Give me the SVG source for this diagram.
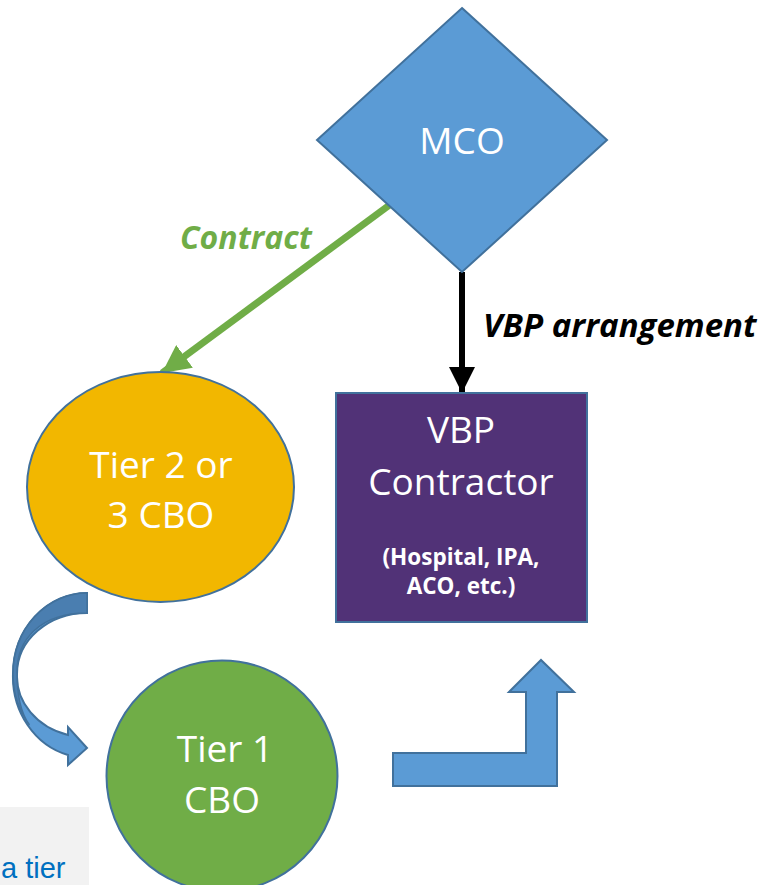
<svg xmlns="http://www.w3.org/2000/svg" width="762" height="885" viewBox="0 0 762 885">
<defs>
<style>
.lbl{font-family:"Open Sans","Liberation Sans",sans-serif;fill:#ffffff;text-anchor:middle}
.big{font-size:37px}
.mid{font-size:37px}
.sm{font-size:22.5px;font-weight:bold}
.edge{font-family:"Open Sans","Liberation Sans",sans-serif;font-weight:bold;font-style:italic}
.shape{stroke:#41719C;stroke-width:2}
</style>
<marker id="headBlack" markerUnits="userSpaceOnUse" markerWidth="26" markerHeight="26" viewBox="0 0 26 26" refX="26" refY="13" orient="auto">
<path d="M0,0 L26,13 L0,26 Z" fill="#000000"/>
</marker>
<marker id="headGreen" markerUnits="userSpaceOnUse" markerWidth="28" markerHeight="28" viewBox="0 0 28 28" refX="28" refY="14" orient="auto">
<path d="M0,0 L28,14 L0,28 Z" fill="#70AD47"/>
</marker>
</defs>
<rect width="762" height="885" fill="#ffffff"/>

<g id="note">
<rect x="0" y="807" width="89" height="78" fill="#F2F2F2"/>
<text x="1" y="878" font-family="Liberation Sans, Arial, sans-serif" font-size="29" fill="#0070C0">a tier</text>
</g>

<g id="connectors">
<line x1="399" y1="198" x2="162" y2="373" stroke="#70AD47" stroke-width="7" marker-end="url(#headGreen)"/>
<line x1="462" y1="272" x2="462" y2="393" stroke="#000000" stroke-width="6" marker-end="url(#headBlack)"/>
<text class="edge" x="180" y="249" font-size="32" fill="#70AD47">Contract</text>
<text class="edge" x="483" y="337" font-size="33" fill="#000000">VBP arrangement</text>
<g id="curved-arrow">
<path class="shape" d="M87,593 A74,81 0 0 0 13,674 A74,81 0 0 0 68,755 L68,765 L87,748 L68,727 L68,735 A70,61 0 0 1 17,674 A70,61 0 0 1 87,613 Z" fill="#5B9BD5"/>
<path d="M87,593 A74,81 0 0 0 13,674 A74,81 0 0 0 29.5,725 C22,715 17,700 17,672 C17,640 40,613 87,613 Z" fill="#4A7EB0" stroke="#41719C" stroke-width="1.5"/>
</g>
<g id="bent-arrow">
<path class="shape" d="M393,753 L526,753 L526,692 L509,692 L541,660 L574,692 L557,692 L557,786 L393,786 Z" fill="#5B9BD5"/>
</g>
</g>

<g id="mco">
<polygon class="shape" points="462,8 607,140 462,272 317,140" fill="#5B9BD5"/>
<text class="lbl big" x="462" y="154">MCO</text>
</g>

<g id="tier23">
<ellipse class="shape" cx="160.5" cy="487" rx="133.5" ry="115" fill="#F2B700"/>
<text class="lbl big" x="161" y="478">Tier 2 or</text>
<text class="lbl big" x="161" y="528">3 CBO</text>
</g>

<g id="vbp">
<rect class="shape" x="336" y="393" width="251" height="229" fill="#513277"/>
<text class="lbl mid" x="461" y="443">VBP</text>
<text class="lbl mid" x="461" y="495">Contractor</text>
<text class="lbl sm" x="461" y="565">(Hospital, IPA,</text>
<text class="lbl sm" x="461" y="594">ACO, etc.)</text>
</g>

<g id="tier1">
<circle class="shape" cx="222" cy="776" r="115.5" fill="#70AD47"/>
<text class="lbl big" x="225" y="762">Tier 1</text>
<text class="lbl big" x="222" y="813">CBO</text>
</g>
</svg>
